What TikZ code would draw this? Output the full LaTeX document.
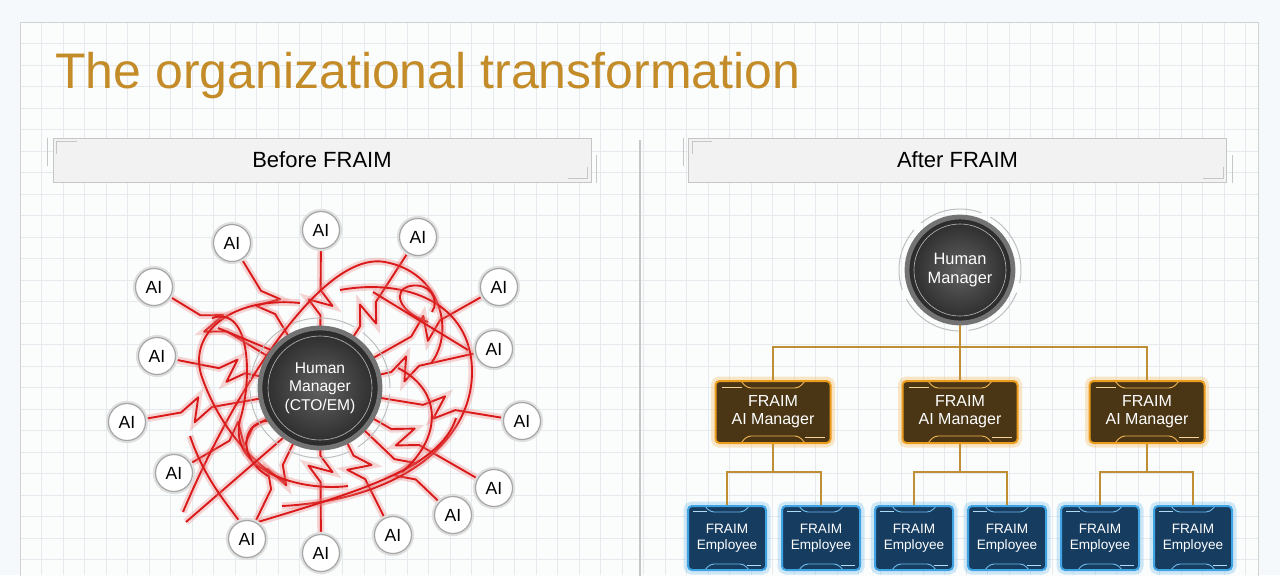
\documentclass[tikz,border=0pt]{standalone}
\usepackage{fontspec}
\setmainfont{Liberation Sans}
\usetikzlibrary{calc,positioning,shadings}
\definecolor{frGold}{RGB}{196,140,40}
\definecolor{frBg}{RGB}{246,249,251}
\definecolor{frGrid}{RGB}{229,234,239}
\definecolor{frWire}{RGB}{218,26,26}
\definecolor{frBrown}{RGB}{74,54,20}
\definecolor{frOrange}{RGB}{236,156,28}
\definecolor{frNavy}{RGB}{22,60,96}
\definecolor{frBlue}{RGB}{64,164,228}
\definecolor{frLink}{RGB}{192,142,52}

\pgfdeclarelayer{back}
\pgfdeclarelayer{wires}
\pgfsetlayers{back,wires,main}

\begin{document}
\begin{tikzpicture}[x=0.5pt, y=-0.5pt,
    aibubble/.style={circle, draw=gray!70, fill=white, line width=.6pt,
                     minimum size=18.5pt, inner sep=0pt, font=\fontsize{8.8}{10}\selectfont,
                     preaction={draw=gray!25, line width=2.6pt}},
    hubdisc/.style={circle, inner sep=0pt, align=center, text=white,
                    draw=black!55, line width=2.4pt, inner color=black!62, outer color=black!84},
    ringarc/.style={gray!50, line width=.5pt, dash pattern=on 32pt off 5pt},
    headbar/.style={rectangle, draw=gray!45, fill=gray!10, line width=.5pt,
                    minimum width=269pt, minimum height=22pt, font=\fontsize{11}{13}\selectfont},
    chip/.style={line width=.45pt},
    aimgr/.style={rectangle, rounded corners=2pt, minimum width=57.5pt, minimum height=31pt,
                  draw=frOrange, line width=1pt, fill=frBrown, text=white, align=center,
                  font=\fontsize{8}{9}\selectfont,
                  preaction={draw=frOrange!70, line width=4.5pt, opacity=.35},
                  path picture={
                    \draw[chip, frOrange!75] ([xshift=-16pt]path picture bounding box.north) -- ++(3pt,-3.5pt) -- ++(26pt,0pt) -- ++(3pt,3.5pt);
                    \draw[chip, frOrange!75] ([xshift=-16pt]path picture bounding box.south) -- ++(3pt,3.5pt) -- ++(26pt,0pt) -- ++(3pt,-3.5pt);
                    \draw[chip, frOrange!45] ([shift={(3pt,-3pt)}]path picture bounding box.north west) -- ++(10pt,0pt);
                    \draw[chip, frOrange!45] ([shift={(-3pt,3pt)}]path picture bounding box.south east) -- ++(-10pt,0pt);
                  }},
    fraimemp/.style={rectangle, rounded corners=2pt, minimum width=39pt, minimum height=32pt,
                  draw=frBlue, line width=1pt, fill=frNavy, text=white, align=center,
                  font=\fontsize{6.8}{8}\selectfont,
                  preaction={draw=frBlue!70, line width=4.5pt, opacity=.35},
                  path picture={
                    \draw[chip, frBlue!75] ([xshift=-11pt]path picture bounding box.north) -- ++(2.5pt,-3pt) -- ++(17pt,0pt) -- ++(2.5pt,3pt);
                    \draw[chip, frBlue!75] ([xshift=-11pt]path picture bounding box.south) -- ++(2.5pt,3pt) -- ++(17pt,0pt) -- ++(2.5pt,-3pt);
                    \draw[chip, frBlue!40] ([shift={(2.5pt,-2.5pt)}]path picture bounding box.north west) -- ++(7pt,0pt);
                    \draw[chip, frBlue!40] ([shift={(-2.5pt,2.5pt)}]path picture bounding box.south east) -- ++(-7pt,0pt);
                  }},
    link/.style={frLink, line width=1.1pt},
    redwire/.style={frWire, line width=.95pt, line join=round,
                    preaction={draw=frWire!60, line width=3.6pt, opacity=.3}}
  ]
  \useasboundingbox (0,0) rectangle (1280,575);

  % page, frame and grid
  \begin{pgfonlayer}{back}
    \fill[frBg] (0,0) rectangle (1280,575);
    \fill[white!60!frBg] (20,22) rectangle (1258,585);
    \foreach \gx in {41.5,63,...,1250} \draw[frGrid, line width=.4pt] (\gx,22) -- (\gx,575);
    \foreach \gy in {43.5,65,...,575} \draw[frGrid, line width=.4pt] (20,\gy) -- (1258,\gy);
    \draw[gray!35, line width=.5pt] (20,585) -- (20,22) -- (1258,22) -- (1258,585);
    \draw[gray!45, line width=.6pt] (640,140) -- (640,580);
  \end{pgfonlayer}

  \node[anchor=base west, inner sep=0pt, text=frGold, font=\fontsize{25}{30}\selectfont]
    (title) at (55,88) {The organizational transformation};

  \node[headbar] (before) at (322,160) {Before FRAIM};
  \node[headbar] (after)  at (957.5,160) {After FRAIM};
  \foreach \h in {before,after}{
    \draw[gray!45, line width=.5pt] ([xshift=-2.5pt]\h.north west) -- ++(0,28);
    \draw[gray!45, line width=.5pt] ([xshift=2.5pt]\h.south east) -- ++(0,-28);
    \draw[gray!45, line width=.4pt] ([shift={(2pt,-8pt)}]\h.north west) -- ++(0pt,6pt) -- ++(10pt,0pt);
    \draw[gray!45, line width=.4pt] ([shift={(-2pt,8pt)}]\h.south east) -- ++(0pt,-6pt) -- ++(-10pt,0pt);
  }

  % before: everyone talks to the manager
  \node[hubdisc, minimum size=60pt, font=\fontsize{7.8}{9.2}\selectfont] (hub) at (320,388) {Human\\Manager\\(CTO/EM)};
  \draw[ringarc] (hub) circle[radius=35pt];
  \draw[gray!55, line width=.3pt] (hub) circle[radius=26pt];

  \foreach \n/\px/\py in {1/232/243, 2/321/230, 3/418/237, 4/154/287, 5/499/287,
                          6/157/356, 7/494/349, 8/127/422, 9/522/421, 10/174/473,
                          11/494/488, 12/453/515, 13/247/539, 14/393/535, 15/321/553}
    \node[aibubble] (ai\n) at (\px,\py) {AI};

  \begin{pgfonlayer}{wires}
    \foreach \k in {1,...,15}{
      \pgfmathsetmacro{\fa}{0.28+0.05*mod(\k,4)}
      \pgfmathsetmacro{\fb}{\fa+0.1}
      \pgfmathsetmacro{\fc}{\fa+0.06}
      \pgfmathsetmacro{\fd}{\fa+0.16}
      \draw[redwire] (ai\k) -- ($(ai\k)!\fa!(hub)$) -- ($(ai\k)!\fb!(hub)!6pt!90:(hub)$)
        -- ($(ai\k)!\fc!(hub)!-6pt!90:(hub)$) -- ($(ai\k)!\fd!(hub)$) -- (hub.center);
    }
    % the tangle
    \draw[redwire] (183,512) .. controls (230,400) and (320,250) .. (385,262) .. controls (440,272) and (455,330) .. (432,362);
    \draw[redwire] (300,303) .. controls (230,296) and (185,335) .. (203,380) .. controls (222,432) and (258,468) .. (286,482);
    \draw[redwire] (212,318) .. controls (252,305) and (252,382) .. (240,420) .. controls (228,470) and (300,492) .. (348,486);
    \draw[redwire] (340,290) .. controls (405,278) and (472,302) .. (472,372) .. controls (472,442) and (400,500) .. (282,506);
    \draw[redwire] (238,528) .. controls (350,494) and (440,470) .. (456,418);
    \draw[redwire] (428,322) .. controls (398,312) and (392,290) .. (410,286) .. controls (430,282) and (440,300) .. (432,312);
    \draw[redwire] (402,472) .. controls (440,440) and (445,392) .. (398,368);
    \draw[redwire] (268,476) .. controls (228,452) and (248,402) .. (292,428);
    \draw[redwire] (186,522) -- (283,438);
    \draw[redwire] (373,292) -- (468,350);
    \draw[redwire] (218,328) -- (300,362);
    \draw[redwire] (190,436) .. controls (205,480) and (228,505) .. (240,522);
  \end{pgfonlayer}

  % after: a tree
  \node[hubdisc, minimum size=53pt, font=\fontsize{8.2}{9.6}\selectfont] (boss) at (960,270) {Human\\Manager};
  \draw[ringarc] (boss) circle[radius=30.5pt];
  \draw[gray!55, line width=.3pt] (boss) circle[radius=23pt];

  \node[aimgr] (mgr1) at (773,412)  {FRAIM\\AI Manager};
  \node[aimgr] (mgr2) at (960,412)  {FRAIM\\AI Manager};
  \node[aimgr] (mgr3) at (1147,412) {FRAIM\\AI Manager};

  \foreach \e/\ex in {1/727, 2/821, 3/914, 4/1007, 5/1100, 6/1193}
    \node[fraimemp] (emp\e) at (\ex,538) {FRAIM\\Employee};

  \coordinate (bus) at (960,347);
  \coordinate (tap1) at (773,472);
  \coordinate (tap2) at (960,472);
  \coordinate (tap3) at (1147,472);

  \draw[link] (boss) -- (bus);
  \draw[link] (bus) -| (mgr1);
  \draw[link] (bus) -| (mgr3);
  \draw[link] (bus) -- (mgr2);
  \foreach \m/\a/\b in {1/1/2, 2/3/4, 3/5/6}{
    \draw[link] (mgr\m) -- (tap\m);
    \draw[link] (tap\m) -| (emp\a);
    \draw[link] (tap\m) -| (emp\b);
  }
\end{tikzpicture}
\end{document}
